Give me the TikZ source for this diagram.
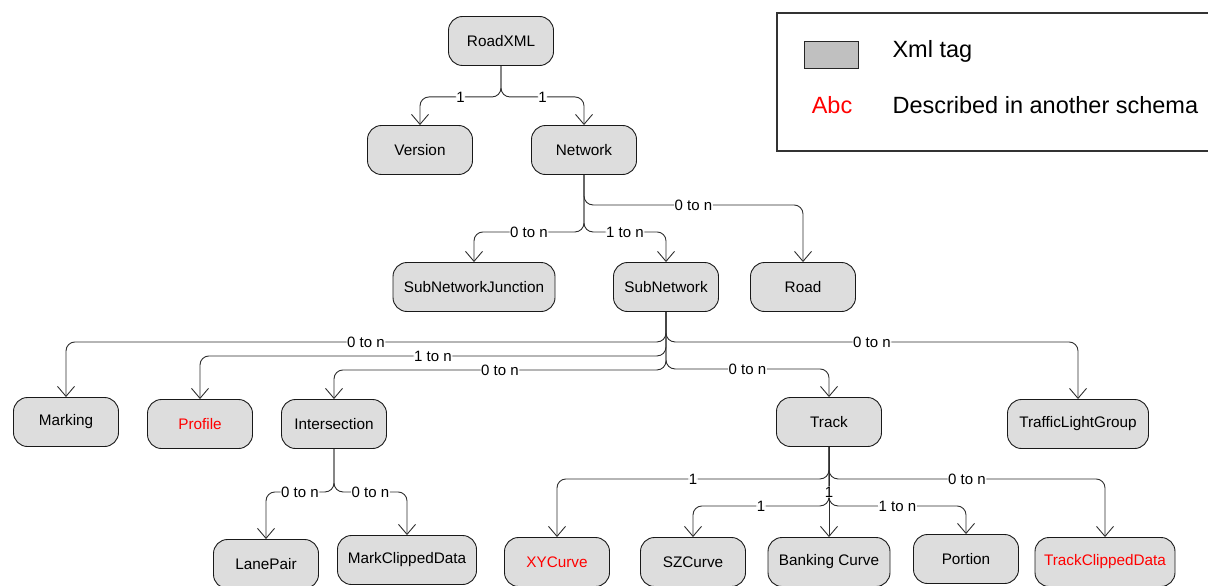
\documentclass[tikz,border=0pt]{standalone}
\usepackage{fontspec}
\setmainfont{Liberation Sans}
\usetikzlibrary{arrows.meta}
\definecolor{tagfill}{HTML}{DDDDDD}
\definecolor{keyfill}{HTML}{C0C0C0}
\definecolor{linkgray}{HTML}{2E2E2E}

\begin{document}
\begin{tikzpicture}[x=1pt,y=-1pt,
        tag/.style={draw=black!90, line width=0.9pt, fill=tagfill, rounded corners=14pt, minimum width=105pt, minimum height=49pt, inner xsep=9pt, font=\fontsize{15.3}{18}\selectfont},
        other/.style={tag, text=red},
        link/.style={draw=linkgray, line width=0.9pt, rounded corners=9pt, -{Straight Barb[length=10pt,width=17pt]}},
        card/.style={fill=white, inner sep=0.5pt, font=\fontsize{15}{18}\selectfont}]
            \useasboundingbox (0,0) rectangle (1208,586);

            \node[tag] (roadxml) at (501,41) {RoadXML};
            \node[tag] (version) at (420,150) {Version};
            \node[tag] (network) at (584,150) {Network};
            \node[tag, minimum width=162pt] (snjunction) at (474,287) {SubNetworkJunction};
            \node[tag] (subnetwork) at (666,287) {SubNetwork};
            \node[tag] (road) at (803,287) {Road};

            \node[tag] (marking) at (66,422) {Marking};
            \node[other] (profile) at (200,424) {Profile};
            \node[tag] (intersection) at (334,424) {Intersection};
            \node[tag] (track) at (829,422) {Track};
            \node[tag, minimum width=141pt] (lightgroup) at (1078,424) {TrafficLightGroup};

            \node[tag] (lanepair) at (266,564) {LanePair};
            \node[tag, minimum width=139pt] (markclipped) at (407,560) {MarkClippedData};
            \node[other] (xycurve) at (557,562) {XYCurve};
            \node[tag] (szcurve) at (693,562) {SZCurve};
            \node[tag, minimum width=122pt] (banking) at (829,562) {Banking Curve};
            \node[tag] (portion) at (966,559) {Portion};
            \node[other, minimum width=140pt] (trackclipped) at (1105,562) {TrackClippedData};

            \draw[link] (roadxml.south) -- ++(0,31) -| node[card,pos=0.25]{1} (version.north);
            \draw[link] (roadxml.south) -- ++(0,31) -| node[card,pos=0.25]{1} (network.north);

            \draw[link] (network.south) -- ++(0,57) -| node[card,pos=0.25]{0 to n} (snjunction.north);
            \draw[link] (network.south) -- ++(0,57) -| node[card,pos=0.25]{1 to n} (subnetwork.north);
            \draw[link] (network.south) -- ++(0,30) -| node[card,pos=0.25]{0 to n} (road.north);

            \draw[link] (subnetwork.south) -- ++(0,30) -| node[card,pos=0.25]{0 to n} (marking.north);
            \draw[link] (subnetwork.south) -- ++(0,44) -| node[card,pos=0.25]{1 to n} (profile.north);
            \draw[link] (subnetwork.south) -- ++(0,58) -| node[card,pos=0.25]{0 to n} (intersection.north);
            \draw[link] (subnetwork.south) -- ++(0,57) -| node[card,pos=0.25]{0 to n} (track.north);
            \draw[link] (subnetwork.south) -- ++(0,30) -| node[card,pos=0.25]{0 to n} (lightgroup.north);

            \draw[link] (intersection.south) -- ++(0,43) -| node[card,pos=0.25]{0 to n} (lanepair.north);
            \draw[link] (intersection.south) -- ++(0,43) -| node[card,pos=0.25]{0 to n} (markclipped.north);

            \draw[link] (track.south) -- ++(0,32) -| node[card,pos=0.25]{1} (xycurve.north);
            \draw[link] (track.south) -- ++(0,32) -| node[card,pos=0.25]{0 to n} (trackclipped.north);
            \draw[link] (track.south) -- ++(0,59) -| node[card,pos=0.25]{1} (szcurve.north);
            \draw[link] (track.south) -- ++(0,59) -| node[card,pos=0.25]{1 to n} (portion.north);
            \draw[link] (track.south) -- node[card]{1} (banking.north);

            \draw[draw=black!80, line width=1.4pt] (777,13) rectangle (1214,151);
                \node[draw=black!85, fill=keyfill, minimum width=54pt, minimum height=27pt, inner sep=0pt] (tagkey) at (831,55) {};
                \node[anchor=west, font=\fontsize{23.5}{27}\selectfont] (tagtext) at (889,51) {Xml tag};
                \node[text=red, font=\fontsize{23.5}{27}\selectfont] (abckey) at (832,105) {Abc};
                \node[anchor=west, font=\fontsize{23.5}{27}\selectfont] (abctext) at (889,105) {Described in another schema};
      \end{tikzpicture}
\end{document}
